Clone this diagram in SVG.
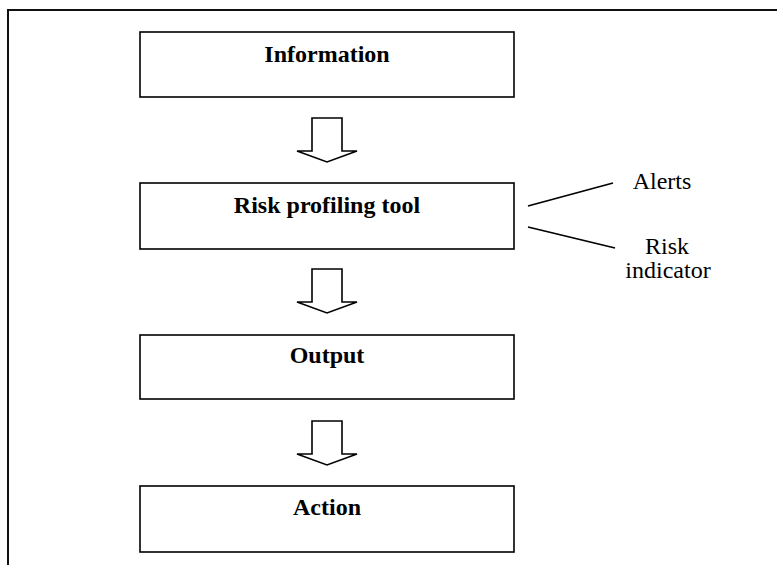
<svg xmlns="http://www.w3.org/2000/svg" width="777" height="565" viewBox="0 0 777 565">
  <defs>
    <!-- hollow block arrow, tip at origin -->
    <path id="block-arrow" d="M -15 -44 L 15 -44 L 15 -11 L 30 -11 L 0 0 L -30 -11 L -15 -11 Z"/>
  </defs>
  <style>
    .frame { fill: none; stroke: #111; stroke-width: 2; }
    .box { fill: #fff; stroke: #000; stroke-width: 1.6; }
    .title { font-family: "Liberation Serif", "Times New Roman", serif; font-size: 24px; font-weight: bold; text-anchor: middle; fill: #000; }
    .label { font-family: "Liberation Serif", "Times New Roman", serif; font-size: 24px; text-anchor: middle; fill: #000; }
    .flow { fill: #fff; stroke: #000; stroke-width: 1.6; stroke-linejoin: miter; }
    .tick { stroke: #000; stroke-width: 1.8; fill: none; }
  </style>

  <rect width="777" height="565" fill="#fff"/>

  <!-- open frame: top and left edges only -->
  <path class="frame" d="M 8 565 L 8 10 L 777 10"/>

  <g id="information">
    <rect class="box" x="140" y="32" width="374" height="65"/>
    <text class="title" x="327" y="62">Information</text>
  </g>

  <g id="risk-profiling-tool">
    <rect class="box" x="140" y="183" width="374" height="66"/>
    <text class="title" x="327" y="213">Risk profiling tool</text>
  </g>

  <g id="output">
    <rect class="box" x="140" y="335" width="374" height="64"/>
    <text class="title" x="327" y="363">Output</text>
  </g>

  <g id="action">
    <rect class="box" x="140" y="486" width="374" height="66"/>
    <text class="title" x="327" y="515">Action</text>
  </g>

  <g id="alerts">
    <text class="label" x="662" y="189">Alerts</text>
  </g>

  <g id="risk-indicator">
    <text class="label" x="667" y="254">Risk</text>
    <text class="label" x="668" y="278">indicator</text>
  </g>

  <g id="connectors">
    <use href="#block-arrow" class="flow" x="327" y="162"/>
    <use href="#block-arrow" class="flow" x="327" y="313"/>
    <use href="#block-arrow" class="flow" x="327" y="465"/>
    <line class="tick" x1="528" y1="206" x2="613" y2="183"/>
    <line class="tick" x1="528" y1="227" x2="615" y2="248"/>
  </g>
</svg>
